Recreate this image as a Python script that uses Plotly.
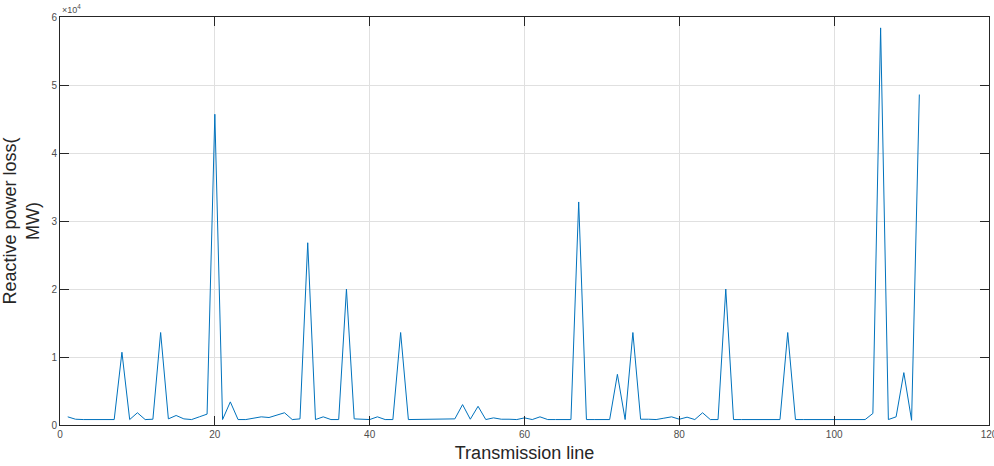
import plotly.graph_objects as go

# Reactive power loss per transmission line (MW)
line_ids = list(range(1, 112))
reactive_loss = [
    1200, 850, 800, 800, 800, 800, 800, 10700, 800, 1800,
    800, 850, 13600, 900, 1400, 900, 800, 1200, 1600, 45700,
    800, 3400, 800, 800, 1000, 1200, 1100, 1500, 1800, 800,
    900, 26800, 800, 1200, 800, 800, 20000, 900, 850, 800,
    1200, 800, 800, 13600, 800, 800, 800, 850, 850, 900,
    900, 3000, 850, 2750, 800, 1050, 850, 850, 800, 1050,
    800, 1200, 800, 800, 800, 800, 32800, 800, 800, 800,
    800, 7450, 800, 13600, 850, 850, 800, 1000, 1200, 850,
    1150, 800, 1800, 800, 800, 20000, 800, 800, 800, 800,
    800, 800, 800, 13600, 800, 800, 800, 800, 800, 800,
    800, 800, 800, 800, 1700, 58400, 800, 1200, 7700, 700,
    48600,
]

x_ticks = [0, 20, 40, 60, 80, 100, 120]
y_ticks = [0, 10000, 20000, 30000, 40000, 50000, 60000]
y_tick_text = ["0", "1", "2", "3", "4", "5", "6"]

axis_color = "#262626"
grid_color = "#e0e0e0"
font_family = "Liberation Sans, Arial, sans-serif"

fig = go.Figure()
fig.add_trace(go.Scatter(
    x=line_ids, y=reactive_loss, mode="lines",
    line=dict(color="#0072BD", width=1),
    showlegend=False,
))

fig.update_layout(
    width=994, height=466,
    margin=dict(l=60, r=5, t=17, b=41, autoexpand=False),
    paper_bgcolor="white", plot_bgcolor="white",
    font=dict(family=font_family, color=axis_color),
)

fig.update_xaxes(
    range=[0, 120], tickvals=x_ticks,
    ticks="inside", ticklen=9, tickcolor=axis_color,
    showline=True, linecolor=axis_color, linewidth=1, mirror="ticks",
    showgrid=True, gridcolor=grid_color, gridwidth=1,
    zeroline=False, ticklabeloverflow="allow", automargin=False,
    tickfont=dict(size=10, color="#4d4d4d"),
    title=dict(text="Transmission line", font=dict(size=18, color=axis_color), standoff=7),
)
fig.update_yaxes(
    range=[0, 60000], tickvals=y_ticks, ticktext=y_tick_text,
    ticks="inside", ticklen=9, tickcolor=axis_color,
    showline=True, linecolor=axis_color, linewidth=1, mirror="ticks",
    showgrid=True, gridcolor=grid_color, gridwidth=1,
    zeroline=False, ticklabeloverflow="allow", automargin=False,
    tickfont=dict(size=10, color="#4d4d4d"),
    title=dict(text="Reactive power loss(<br>MW)", font=dict(size=18, color=axis_color), standoff=12),
)

# exponent label above the y axis
fig.add_annotation(
    x=0, y=1, xref="paper", yref="paper",
    xanchor="left", yanchor="bottom", showarrow=False,
    text="\u00d710<sup>4</sup>", font=dict(size=9, color="#4d4d4d"),
)

fig.write_html("out.html")
